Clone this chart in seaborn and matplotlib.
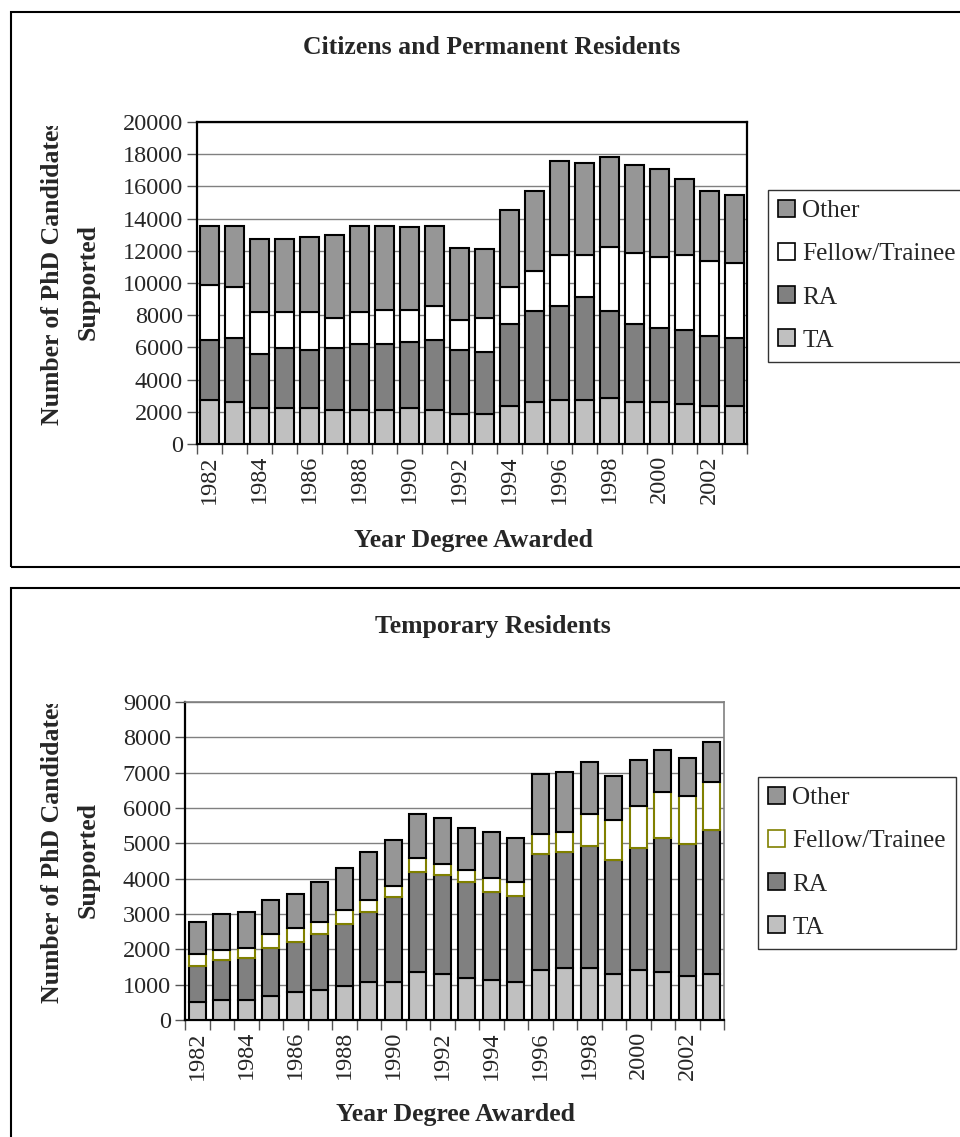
import numpy as np
import pandas as pd
import matplotlib
matplotlib.use("Agg")
import matplotlib.pyplot as plt
import seaborn as sns
from matplotlib.patches import Patch, Rectangle
from matplotlib.transforms import Bbox

# === Data ===
years = [str(y) for y in range(1982, 2004)]
tick_years = [str(y) for y in range(1982, 2004, 2)]
series_names = ["Other", "Fellow/Trainee", "RA", "TA"]

# Citizens and Permanent Residents
cit_ta = [2730, 2580, 2230, 2230, 2230, 2100, 2100, 2100, 2230, 2100, 1850,
          1850, 2350, 2600, 2730, 2730, 2850, 2600, 2600, 2480, 2350, 2350]
cit_ra = [3750, 4020, 3370, 3750, 3620, 3880, 4130, 4130, 4120, 4380, 4000,
          3880, 5130, 5630, 5870, 6370, 5380, 4880, 4630, 4620, 4380, 4250]
cit_fellow = [3390, 3130, 2600, 2220, 2350, 1870, 1970, 2120, 2000, 2120, 1880,
              2120, 2250, 2500, 3130, 2630, 4000, 4370, 4370, 4630, 4620, 4630]
cit_other = [3680, 3820, 4530, 4530, 4650, 5130, 5350, 5200, 5100, 4950, 4470,
             4250, 4820, 4970, 5820, 5720, 5570, 5450, 5450, 4720, 4350, 4220]

# Temporary Residents
tmp_ta = [510, 570, 570, 680, 790, 850, 970, 1070, 1070, 1360, 1300,
          1200, 1140, 1080, 1420, 1480, 1480, 1310, 1420, 1370, 1250, 1310]
tmp_ra = [1030, 1130, 1190, 1360, 1420, 1590, 1740, 2000, 2400, 2830, 2790,
          2700, 2480, 2430, 3270, 3270, 3450, 3210, 3440, 3790, 3730, 4060]
tmp_fellow = [330, 290, 290, 400, 390, 340, 390, 320, 310, 390, 330,
              340, 390, 390, 570, 570, 890, 1140, 1190, 1290, 1350, 1360]
tmp_other = [910, 1010, 1010, 960, 970, 1120, 1210, 1360, 1310, 1240, 1300,
             1200, 1310, 1260, 1710, 1700, 1480, 1250, 1310, 1190, 1090, 1140]

# === Style ===
sns.set_theme(style="white")
plt.rcParams["font.family"] = ["Liberation Serif", "DejaVu Serif"]

W, H = 960, 1137
fig = plt.figure(figsize=(W / 100, H / 100), dpi=100)

c_other, c_ra, c_ta = "#969696", "#808080", "#C0C0C0"
FS_TICK = 17.5   # tick labels
FS_BOLD = 18.5   # titles / axis labels
FS_LEG = 18.2


def fx(px):
    return px / W


def fy(py):
    return 1 - py / H


def panel(box, ta, ra, fellow, other, ymax, step, width, fellow_edge, frame_col):
    left, top, right, bottom = box
    ax = fig.add_axes([fx(left), fy(bottom), fx(right - left), fy(top) - fy(bottom)])
    df = pd.DataFrame({"Year": years, "TA": ta, "RA": ra,
                       "Fellow": fellow, "Other": other})
    base = np.zeros(len(years))
    layers = [("TA", c_ta, "black"), ("RA", c_ra, "black"),
              ("Fellow", "white", fellow_edge), ("Other", c_other, "black")]
    for col, fc, ec in layers:
        sns.barplot(data=df, x="Year", y=col, order=years, color=fc,
                    width=width, bottom=base.copy(), edgecolor=ec,
                    linewidth=1.5, saturation=1, ax=ax, zorder=3)
        base += df[col].to_numpy()
    ax.set_xlim(-0.5, len(years) - 0.5)
    ax.set_ylim(0, ymax)
    ax.set_yticks(np.arange(0, ymax + 1, step))
    ax.set_yticklabels([str(v) for v in np.arange(0, ymax + 1, step)], fontsize=FS_TICK)
    ax.yaxis.grid(True, color="#808080", lw=1.0, zorder=0)
    ax.set_axisbelow(True)
    ax.set_xticks([years.index(t) for t in tick_years])
    ax.set_xticklabels(tick_years, rotation=90, fontsize=FS_TICK)
    ax.set_xticks(np.arange(-0.5, len(years), 1), minor=True)
    ax.tick_params(axis="x", which="major", length=0, pad=8)
    ax.tick_params(axis="x", which="minor", length=7, width=1, color="#555555", bottom=True)
    ax.tick_params(axis="y", which="major", length=7, width=1, color="#555555",
                   left=True, pad=3)
    ax.set_xlabel("")
    ax.set_ylabel("")
    for s in ["left", "bottom"]:
        ax.spines[s].set_color("black")
        ax.spines[s].set_linewidth(1.6)
    for s in ["top", "right"]:
        ax.spines[s].set_color(frame_col)
        ax.spines[s].set_linewidth(1.6 if frame_col == "black" else 1.2)
    return ax


ax1 = panel((197, 122, 747, 444), cit_ta, cit_ra, cit_fellow, cit_other,
            20000, 2000, 0.78, "black", "black")
ax2 = panel((185, 702, 724, 1020), tmp_ta, tmp_ra, tmp_fellow, tmp_other,
            9000, 1000, 0.7, "#808000", "#808080")

# panel frames
fig.add_artist(Rectangle((fx(11), fy(567)), 1.2, fy(12) - fy(567),
                         transform=fig.transFigure, fill=False, ec="black", lw=1.5))
fig.add_artist(Rectangle((fx(11), -0.1), 1.2, fy(588) + 0.1,
                         transform=fig.transFigure, fill=False, ec="black", lw=1.5))

# titles and axis labels
fig.text(fx(492), fy(48), "Citizens and Permanent Residents", ha="center",
         va="center", fontsize=FS_BOLD, fontweight="bold")
fig.text(fx(493), fy(626), "Temporary Residents", ha="center",
         va="center", fontsize=FS_BOLD, fontweight="bold")
fig.text(fx(473), fy(541), "Year Degree Awarded", ha="center",
         va="center", fontsize=FS_BOLD, fontweight="bold")
fig.text(fx(456), fy(1114), "Year Degree Awarded", ha="center",
         va="center", fontsize=FS_BOLD, fontweight="bold")

for yc, clip_top in [(272, 126), (850, 704)]:
    t = fig.text(fx(53), fy(yc), "Number of PhD Candidates", rotation=90,
                 ha="center", va="center", fontsize=FS_BOLD, fontweight="bold")
    t.set_clip_box(Bbox.from_extents(0, 0, W, H - clip_top))
    t.set_clip_on(True)
    fig.text(fx(88), fy(yc + 10), "Supported", rotation=90, ha="center",
             va="center", fontsize=FS_BOLD, fontweight="bold")


# legends
def legend(x, y, fellow_edge):
    handles = [Patch(facecolor=c_other, edgecolor="black", lw=1.2),
               Patch(facecolor="white", edgecolor=fellow_edge, lw=1.2),
               Patch(facecolor=c_ra, edgecolor="black", lw=1.2),
               Patch(facecolor=c_ta, edgecolor="black", lw=1.2)]
    leg = fig.legend(handles, series_names, loc="upper left",
                     bbox_to_anchor=(fx(x), fy(y)), fontsize=FS_LEG, frameon=True,
                     fancybox=False, edgecolor="#333333", framealpha=1,
                     handlelength=0.65, handleheight=0.65, handletextpad=0.3,
                     labelspacing=0.82, borderpad=0.4, borderaxespad=0)
    leg.get_frame().set_linewidth(1.0)


legend(768, 190, "black")
legend(758, 777, "#808000")

fig.savefig("out.png", dpi=100)
